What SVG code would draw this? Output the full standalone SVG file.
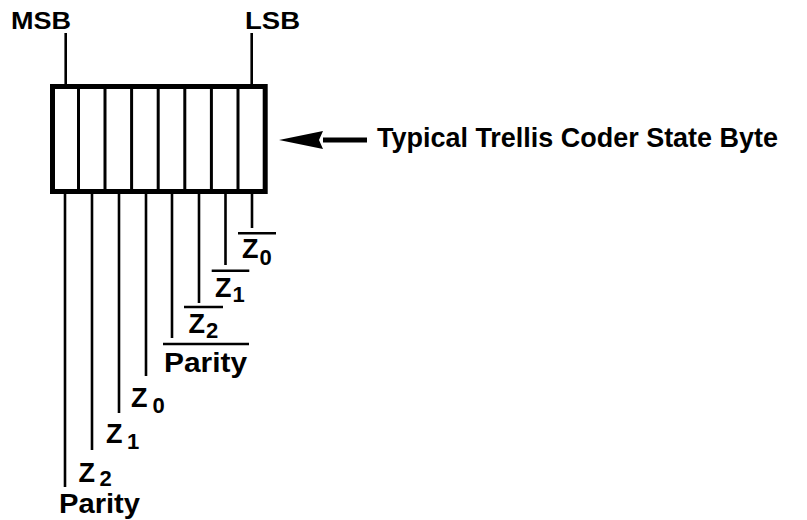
<svg xmlns="http://www.w3.org/2000/svg" width="807" height="520" viewBox="0 0 807 520">
<style>
text{font-family:"Liberation Sans",Arial,sans-serif;font-weight:bold;fill:#000}
.lbl{font-size:27px}
.sub{font-size:22px}
.lead{stroke:#000;stroke-width:2.6;fill:none}
.ovl{stroke:#000;stroke-width:2.6;fill:none}
.div{stroke:#000;stroke-width:3;fill:none}
</style>
<rect width="807" height="520" fill="#fff"/>
<g id="state-byte">
<rect x="52.5" y="86.5" width="212.7" height="105" fill="#fff" stroke="#000" stroke-width="5"/>
<path class="div" d="M78.5 89V189M105 89V189M131.6 89V189M158.2 89V189M184.8 89V189M211.4 89V189M238 89V189"/>
</g>
<g id="msb-label"><text x="11" y="29" font-size="24" textLength="60" lengthAdjust="spacingAndGlyphs">MSB</text></g>
<g id="lsb-label"><text x="245" y="29" font-size="24" textLength="55" lengthAdjust="spacingAndGlyphs">LSB</text></g>
<g id="title-label"><text x="377" y="147" font-size="27.5" textLength="401" lengthAdjust="spacingAndGlyphs">Typical Trellis Coder State Byte</text></g>
<g id="connectors">
<path class="lead" d="M65.7 33V84M251.7 33V84"/>
<path class="lead" d="M65 194V487M92 194V450M119 194V413M146 194V376M172 194V338M199 194V303M225.5 194V265M252 194V228"/>
<path d="M323 140H367" stroke="#000" stroke-width="5"/>
<polygon points="279,140 323,131 319,140 323,149" fill="#000"/>
</g>
<g id="bit-labels-inverted">
<path class="ovl" d="M238 233.3H276M211.7 270.7H249.3M184 307H223M163 344H249"/>
<text class="lbl" x="242" y="258">Z<tspan class="sub" x="259.5" y="265">0</tspan></text>
<text class="lbl" x="215" y="296.7">Z<tspan class="sub" x="232.5" y="301.7">1</tspan></text>
<text class="lbl" x="188.5" y="332.7">Z<tspan class="sub" x="206" y="338">2</tspan></text>
<text class="lbl" x="164" y="371.7" font-size="26" textLength="83" lengthAdjust="spacingAndGlyphs">Parity</text>
</g>
<g id="bit-labels">
<text class="lbl" x="131" y="406.7">Z<tspan class="sub" x="152.5" y="413">0</tspan></text>
<text class="lbl" x="106" y="443">Z<tspan class="sub" x="127" y="449">1</tspan></text>
<text class="lbl" x="78.5" y="482">Z<tspan class="sub" x="99.5" y="486" font-size="21">2</tspan></text>
<text class="lbl" x="59" y="513" font-size="25" textLength="81" lengthAdjust="spacingAndGlyphs">Parity</text>
</g>
</svg>
